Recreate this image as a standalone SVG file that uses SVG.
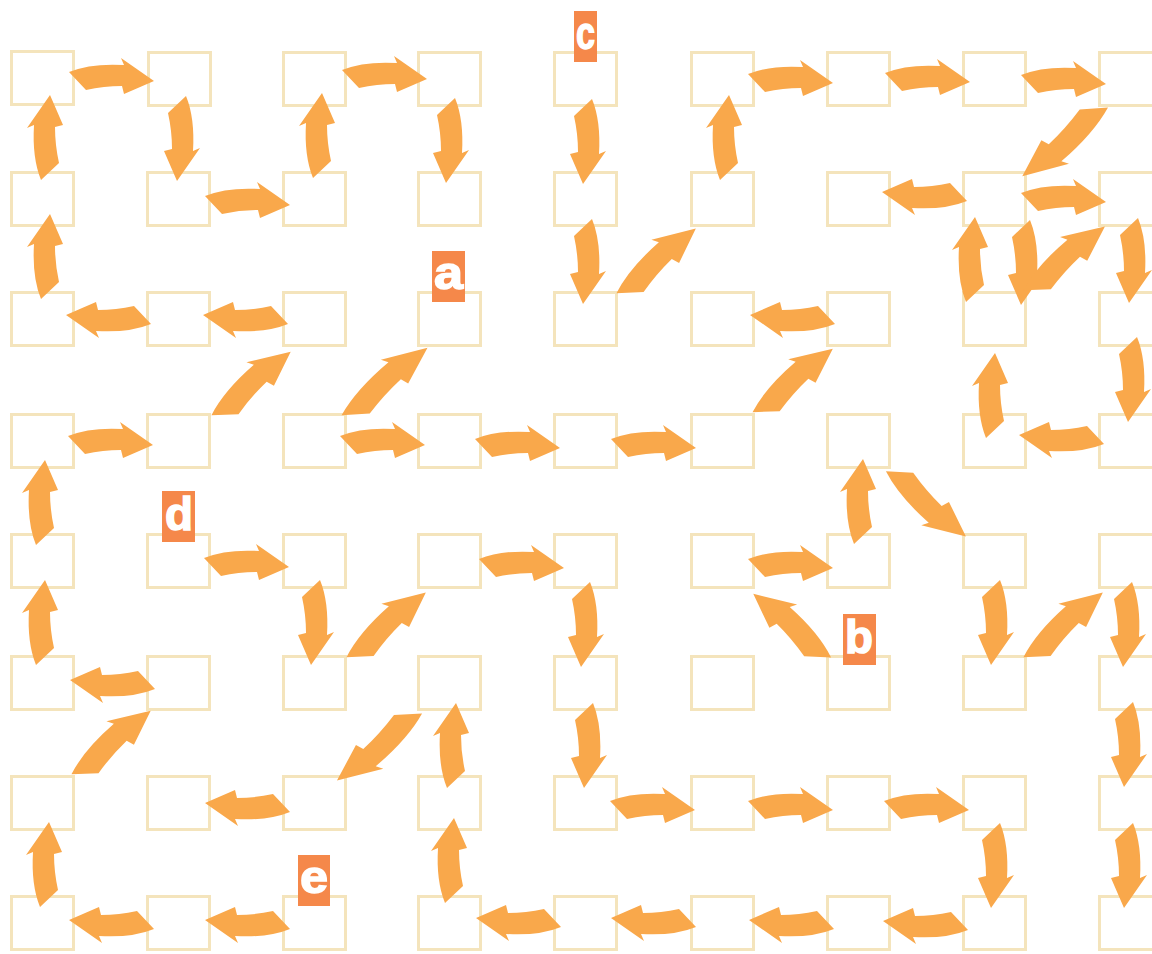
<svg xmlns="http://www.w3.org/2000/svg" width="1152" height="954" viewBox="0 0 1152 954">
<style>
.box{fill:none;stroke:#f4e4bc;stroke-width:3}
.arr{fill:#f9a84b}
.lbl{fill:#f5884a}
.lt{fill:#ffffff;stroke:#ffffff;stroke-width:1.5;font-family:"Liberation Sans",Arial,sans-serif;font-weight:bold;font-size:47px}
</style>
<defs>
<path id="arr" d="M0,-8 Q22,-17 55,-15 L52,-22 L85,1 L55,14 L53,6 Q35,6 17,10 Z"/>
</defs>
<g id="nodes">
<g id="n-r1"><rect class="box" x="11.5" y="51.5" width="62" height="53"/><rect class="box" x="148.5" y="52.5" width="62" height="53"/><rect class="box" x="283.5" y="52.5" width="62" height="53"/><rect class="box" x="418.5" y="52.5" width="62" height="53"/><rect class="box" x="554.5" y="52.5" width="62" height="53"/><rect class="box" x="691.5" y="52.5" width="62" height="53"/><rect class="box" x="827.5" y="52.5" width="62" height="53"/><rect class="box" x="963.5" y="52.5" width="62" height="53"/><rect class="box" x="1099.5" y="52.5" width="62" height="53"/></g>
<g id="n-r2"><rect class="box" x="11.5" y="172.5" width="62" height="53"/><rect class="box" x="147.5" y="172.5" width="62" height="53"/><rect class="box" x="283.5" y="172.5" width="62" height="53"/><rect class="box" x="418.5" y="172.5" width="62" height="53"/><rect class="box" x="554.5" y="172.5" width="62" height="53"/><rect class="box" x="691.5" y="172.5" width="62" height="53"/><rect class="box" x="827.5" y="172.5" width="62" height="53"/><rect class="box" x="963.5" y="172.5" width="62" height="53"/><rect class="box" x="1099.5" y="172.5" width="62" height="53"/></g>
<g id="n-r3"><rect class="box" x="11.5" y="292.5" width="62" height="53"/><rect class="box" x="147.5" y="292.5" width="62" height="53"/><rect class="box" x="283.5" y="292.5" width="62" height="53"/><rect class="box" x="418.5" y="292.5" width="62" height="53"/><rect class="box" x="554.5" y="292.5" width="62" height="53"/><rect class="box" x="691.5" y="292.5" width="62" height="53"/><rect class="box" x="827.5" y="292.5" width="62" height="53"/><rect class="box" x="963.5" y="292.5" width="62" height="53"/><rect class="box" x="1099.5" y="292.5" width="62" height="53"/></g>
<g id="n-r4"><rect class="box" x="11.5" y="414.5" width="62" height="53"/><rect class="box" x="147.5" y="414.5" width="62" height="53"/><rect class="box" x="283.5" y="414.5" width="62" height="53"/><rect class="box" x="418.5" y="414.5" width="62" height="53"/><rect class="box" x="554.5" y="414.5" width="62" height="53"/><rect class="box" x="691.5" y="414.5" width="62" height="53"/><rect class="box" x="827.5" y="414.5" width="62" height="53"/><rect class="box" x="963.5" y="414.5" width="62" height="53"/><rect class="box" x="1099.5" y="414.5" width="62" height="53"/></g>
<g id="n-r5"><rect class="box" x="11.5" y="534.5" width="62" height="53"/><rect class="box" x="147.5" y="534.5" width="62" height="53"/><rect class="box" x="283.5" y="534.5" width="62" height="53"/><rect class="box" x="418.5" y="534.5" width="62" height="53"/><rect class="box" x="554.5" y="534.5" width="62" height="53"/><rect class="box" x="691.5" y="534.5" width="62" height="53"/><rect class="box" x="827.5" y="534.5" width="62" height="53"/><rect class="box" x="963.5" y="534.5" width="62" height="53"/><rect class="box" x="1099.5" y="534.5" width="62" height="53"/></g>
<g id="n-r6"><rect class="box" x="11.5" y="656.5" width="62" height="53"/><rect class="box" x="147.5" y="656.5" width="62" height="53"/><rect class="box" x="283.5" y="656.5" width="62" height="53"/><rect class="box" x="418.5" y="656.5" width="62" height="53"/><rect class="box" x="554.5" y="656.5" width="62" height="53"/><rect class="box" x="691.5" y="656.5" width="62" height="53"/><rect class="box" x="827.5" y="656.5" width="62" height="53"/><rect class="box" x="963.5" y="656.5" width="62" height="53"/><rect class="box" x="1099.5" y="656.5" width="62" height="53"/></g>
<g id="n-r7"><rect class="box" x="11.5" y="776.5" width="62" height="53"/><rect class="box" x="147.5" y="776.5" width="62" height="53"/><rect class="box" x="283.5" y="776.5" width="62" height="53"/><rect class="box" x="418.5" y="776.5" width="62" height="53"/><rect class="box" x="554.5" y="776.5" width="62" height="53"/><rect class="box" x="691.5" y="776.5" width="62" height="53"/><rect class="box" x="827.5" y="776.5" width="62" height="53"/><rect class="box" x="963.5" y="776.5" width="62" height="53"/><rect class="box" x="1099.5" y="776.5" width="62" height="53"/></g>
<g id="n-r8"><rect class="box" x="11.5" y="896.5" width="62" height="53"/><rect class="box" x="147.5" y="896.5" width="62" height="53"/><rect class="box" x="283.5" y="896.5" width="62" height="53"/><rect class="box" x="418.5" y="896.5" width="62" height="53"/><rect class="box" x="554.5" y="896.5" width="62" height="53"/><rect class="box" x="691.5" y="896.5" width="62" height="53"/><rect class="box" x="827.5" y="896.5" width="62" height="53"/><rect class="box" x="963.5" y="896.5" width="62" height="53"/><rect class="box" x="1099.5" y="896.5" width="62" height="53"/></g>
</g>
<g id="connectors" class="arr">
<use href="#arr" transform="translate(69,80)"/>
<use href="#arr" transform="translate(342,78)"/>
<use href="#arr" transform="translate(748,82)"/>
<use href="#arr" transform="translate(885,81)"/>
<use href="#arr" transform="translate(1021,83)"/>
<use href="#arr" transform="translate(205,204)"/>
<use href="#arr" transform="translate(1021,201)"/>
<use href="#arr" transform="translate(68,444)"/>
<use href="#arr" transform="translate(340,444)"/>
<use href="#arr" transform="translate(475,447)"/>
<use href="#arr" transform="translate(611,447)"/>
<use href="#arr" transform="translate(204,566)"/>
<use href="#arr" transform="translate(479,567)"/>
<use href="#arr" transform="translate(748,567)"/>
<use href="#arr" transform="translate(610,809)"/>
<use href="#arr" transform="translate(748,809)"/>
<use href="#arr" transform="translate(884,809)"/>
<use href="#arr" transform="translate(151,316) rotate(180)"/>
<use href="#arr" transform="translate(288,316) rotate(180)"/>
<use href="#arr" transform="translate(835,316) rotate(180)"/>
<use href="#arr" transform="translate(967,193) rotate(180)"/>
<use href="#arr" transform="translate(1104,436) rotate(180)"/>
<use href="#arr" transform="translate(155,681) rotate(180)"/>
<use href="#arr" transform="translate(290,804) rotate(180)"/>
<use href="#arr" transform="translate(154,921) rotate(180)"/>
<use href="#arr" transform="translate(290,921) rotate(180)"/>
<use href="#arr" transform="translate(561,919) rotate(180)"/>
<use href="#arr" transform="translate(696,919) rotate(180)"/>
<use href="#arr" transform="translate(834,921) rotate(180)"/>
<use href="#arr" transform="translate(968,922) rotate(180)"/>
<use href="#arr" transform="translate(49,180) rotate(-90)"/>
<use href="#arr" transform="translate(49,299) rotate(-90)"/>
<use href="#arr" transform="translate(44,545) rotate(-90)"/>
<use href="#arr" transform="translate(44,665) rotate(-90)"/>
<use href="#arr" transform="translate(48,907) rotate(-90)"/>
<use href="#arr" transform="translate(321,178) rotate(-90)"/>
<use href="#arr" transform="translate(728,180) rotate(-90)"/>
<use href="#arr" transform="translate(974,302) rotate(-90)"/>
<use href="#arr" transform="translate(994,438) rotate(-90)"/>
<use href="#arr" transform="translate(455,788) rotate(-90)"/>
<use href="#arr" transform="translate(453,903) rotate(-90)"/>
<use href="#arr" transform="translate(862,544) rotate(-90)"/>
<use href="#arr" transform="translate(178,96) rotate(90)"/>
<use href="#arr" transform="translate(447,98) rotate(90)"/>
<use href="#arr" transform="translate(584,99) rotate(90)"/>
<use href="#arr" transform="translate(584,219) rotate(90)"/>
<use href="#arr" transform="translate(1130,218) rotate(90)"/>
<use href="#arr" transform="translate(1022,220) rotate(90)"/>
<use href="#arr" transform="translate(1129,337) rotate(90)"/>
<use href="#arr" transform="translate(312,580) rotate(90)"/>
<use href="#arr" transform="translate(582,582) rotate(90)"/>
<use href="#arr" transform="translate(585,703) rotate(90)"/>
<use href="#arr" transform="translate(992,823) rotate(90)"/>
<use href="#arr" transform="translate(992,580) rotate(90)"/>
<use href="#arr" transform="translate(1124,582) rotate(90)"/>
<use href="#arr" transform="translate(1125,702) rotate(90)"/>
<use href="#arr" transform="translate(1125,823) rotate(90)"/>
<use href="#arr" transform="translate(217,421) rotate(-43.8) scale(1.19,1)"/>
<use href="#arr" transform="translate(622,299) rotate(-44.2) scale(1.2,1)"/>
<use href="#arr" transform="translate(347,421) rotate(-42.8) scale(1.28,1)"/>
<use href="#arr" transform="translate(758,418) rotate(-43.4) scale(1.2,1)"/>
<use href="#arr" transform="translate(1029,296) rotate(-43) scale(1.21,1)"/>
<use href="#arr" transform="translate(352,663) rotate(-44.2) scale(1.2,1)"/>
<use href="#arr" transform="translate(77,780) rotate(-43.8) scale(1.19,1)"/>
<use href="#arr" transform="translate(1029,663) rotate(-44.2) scale(1.2,1)"/>
<use href="#arr" transform="translate(416.6,707.6) rotate(137) scale(1.27,1)"/>
<use href="#arr" transform="translate(1102.5,101.6) rotate(136.5) scale(1.29,1)"/>
<use href="#arr" transform="translate(891.5,465.6) rotate(44.2) scale(1.21,-1)"/>
<use href="#arr" transform="translate(825.5,663.3) rotate(-135.5) scale(1.18,-1)"/>
</g>
<g id="label-c"><rect class="lbl" x="574" y="11" width="23" height="51"/><text class="lt" x="576" y="49" textLength="19" lengthAdjust="spacingAndGlyphs">c</text></g>
<g id="label-a"><rect class="lbl" x="432" y="251" width="33" height="51"/><text class="lt" x="434" y="289" textLength="29" lengthAdjust="spacingAndGlyphs">a</text></g>
<g id="label-d"><rect class="lbl" x="162" y="491" width="33" height="51"/><text class="lt" x="165" y="530" textLength="28" lengthAdjust="spacingAndGlyphs">d</text></g>
<g id="label-b"><rect class="lbl" x="843" y="614" width="33" height="51"/><text class="lt" x="845" y="653" textLength="28" lengthAdjust="spacingAndGlyphs">b</text></g>
<g id="label-e"><rect class="lbl" x="298" y="855" width="32" height="51"/><text class="lt" x="300" y="893" textLength="28" lengthAdjust="spacingAndGlyphs">e</text></g>
</svg>
